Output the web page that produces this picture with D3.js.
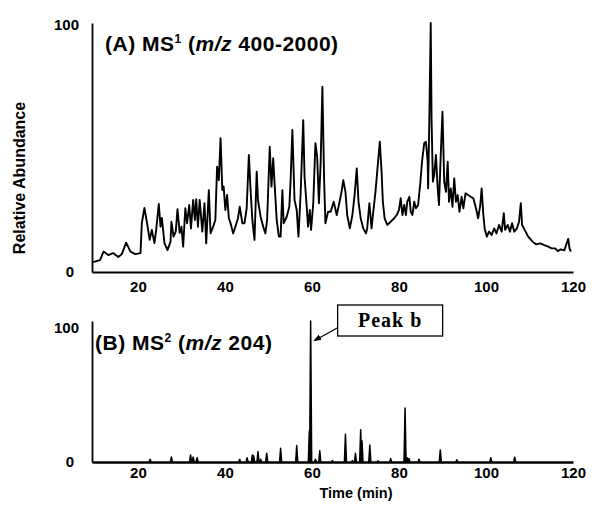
<!DOCTYPE html>
<html>
<head>
<meta charset="utf-8">
<script src="https://cdn.jsdelivr.net/npm/d3@7"></script>
<style>
body { margin: 0; background: #fff; }
svg { display: block; }
text { font-family: "Liberation Sans", Arial, sans-serif; font-weight: bold; fill: #000; }
text.serif { font-family: "Liberation Serif", "Times New Roman", serif; }
</style>
</head>
<body>
<svg id="chart" width="592" height="509"></svg>
<script>
// MS1 total ion trace (time in min, relative abundance)
const ms1Time = [9.7,11.3,12.1,13.2,14.3,15.5,16.3,17.3,18.3,19.4,20.6,20.9,21.5,22.1,22.7,23.2,23.8,24.2,24.8,25.2,
  25.5,26.1,26.8,27.5,27.7,28.2,28.7,29.1,29.6,30.0,30.4,30.9,31.3,31.8,32.2,32.7,33.1,33.4,33.8,34.2,
  34.8,35.3,35.7,36.3,36.7,37.3,37.8,38.2,38.6,39.0,39.4,39.7,40.1,40.5,40.9,41.3,41.9,42.4,43.0,43.4,
  44.0,44.5,45.0,45.5,45.9,46.3,46.8,47.3,47.6,48.2,48.8,49.3,49.7,50.3,50.7,51.1,51.5,51.9,52.4,52.8,
  53.2,53.5,54.2,54.8,55.1,55.5,56.0,56.5,56.9,57.4,58.0,58.3,58.8,59.1,59.5,59.8,60.3,60.8,61.2,61.6,
  62.0,62.4,62.8,63.1,63.7,64.3,65.0,65.7,66.2,66.8,67.2,67.7,68.1,68.7,69.3,69.8,70.3,70.7,71.2,71.8,
  72.4,72.7,73.2,73.7,74.1,74.6,75.2,75.6,76.0,76.3,76.7,77.3,78.1,78.9,79.5,80.0,80.4,80.8,81.2,81.6,
  81.9,82.4,82.7,83.1,83.5,83.9,84.4,84.9,85.3,85.8,86.2,86.6,86.7,87.0,87.3,87.5,87.8,88.1,88.5,88.9,
  89.2,89.6,90.0,90.4,90.8,91.2,91.5,91.9,92.3,92.7,93.1,93.5,93.9,94.4,94.8,95.3,95.9,96.5,97.1,97.7,
  98.2,98.7,99.0,99.4,99.7,100.2,100.7,101.3,101.9,102.4,103.0,103.6,104.1,104.4,105.0,105.5,106.0,106.5,107.1,107.6,
  108.0,108.3,108.9,109.7,110.7,111.5,112.5,113.4,114.3,115.1,115.9,116.5,117.2,118.0,118.4,118.9,119.2,119.5];
const ms1Abund = [4.0,4.8,8.2,6.8,7.6,6.0,7.2,11.8,8.2,7.2,7.6,19.6,25.7,19.6,12.9,16.9,11.6,16.9,27.3,18.2,
  21.7,11.6,8.8,12.2,20.2,14.2,16.2,25.2,15.7,18.2,10.2,25.6,19.6,26.9,17.5,28.9,20.9,29.2,18.2,28.9,
  16.2,27.6,11.5,32.9,15.5,18.2,20.9,42.3,36.9,53.7,32.9,34.3,24.9,30.9,21.6,19.6,15.5,18.2,21.6,26.2,
  19.6,19.6,25.6,47.0,32.9,20.9,12.9,40.3,28.9,22.2,18.2,15.5,20.9,50.3,34.3,45.7,32.9,20.9,14.2,14.2,
  32.9,19.6,22.2,26.2,36.9,57.0,28.9,24.9,14.2,31.6,61.0,38.3,26.2,18.2,24.9,16.9,27.6,51.7,46.3,27.6,
  43.7,74.4,36.9,19.6,24.2,24.2,28.2,22.9,26.9,32.2,36.9,32.2,22.9,17.5,22.9,30.9,41.6,28.2,21.6,17.5,
  15.5,17.5,27.6,17.5,24.2,32.2,44.3,52.3,40.3,28.2,21.6,18.9,20.2,21.6,22.9,24.9,29.6,22.9,26.9,22.9,
  28.2,30.2,24.2,22.9,28.2,25.6,26.9,35.6,44.3,51.7,52.3,44.3,33.6,63.1,100,60.4,36.3,39.0,47.0,33.6,
  26.9,47.0,64.4,36.3,32.2,44.3,28.2,33.6,26.2,37.6,28.2,30.9,24.2,30.2,25.6,31.6,30.9,30.2,29.6,25.6,
  21.6,26.9,33.6,22.9,17.5,14.2,16.2,14.9,17.5,15.5,18.9,16.2,23.6,16.9,18.9,16.2,19.6,16.2,17.5,20.2,
  27.6,18.9,16.9,14.2,12.2,11.1,11.5,10.8,10.2,9.5,9.5,8.4,9.1,8.7,10.8,13.3,9.5,8.2];

// MS2 (m/z 204) peaks: retention time and relative height
const ms2Time = [22.8,27.7,32.1,32.7,33.6,43.4,45.1,46.3,46.6,47.6,48.2,49.6,52.8,56.5,59.4,59.7,60.8,61.8,64.7,67.7,
  69.3,70.0,71.2,71.5,73.3,75.2,78.1,81.4,81.9,82.3,84.6,89.5,93.3,101.1,106.6];
const ms2Abund = [2,3.5,5,3.5,3,2,3,5,4.5,7.4,2,6.2,9.8,11.7,22,100,2,8,1,19.7,
  1,6.2,22.9,15,12.1,0.8,2.4,38.3,3,2.5,2,8.6,1.5,3,3.4];

const xTicks = [20, 40, 60, 80, 100, 120];
const yTicks = [0, 100];
const peakLabel = 'Peak b';
const peakIndex = 15;

const svg = d3.select('#chart');

const x = d3.scaleLinear().domain([9.45, 120]).range([92, 573]);
const yA = d3.scaleLinear().domain([0, 100]).range([272, 23]);
const yB = d3.scaleLinear().domain([0, 100]).range([462, 321]);

function drawAxes(y, xPad, topShift, bottomWidth) {
    const gx = svg.append('g').attr('transform', `translate(0,${y(0)})`)
        .call(d3.axisBottom(x).tickValues(xTicks).tickSize(0).tickSizeOuter(0).tickPadding(xPad));
    gx.select('.domain').attr('stroke-width', bottomWidth);
    gx.selectAll('text').attr('font-size', 15).attr('font-family', null);

    const gy = svg.append('g').attr('transform', `translate(${x(9.45)},0)`)
        .call(d3.axisLeft(y).tickValues(yTicks).tickSize(0).tickSizeOuter(0).tickPadding(13));
    gy.select('.domain').attr('stroke-width', 1.8);
    gy.selectAll('text').attr('font-size', 15).attr('font-family', null)
        .attr('dx', d => d === 0 ? -5 : 0)
        .attr('transform', d => d === 100 ? `translate(0,${topShift})` : null);
}

drawAxes(yA, 9.5, 2, 1.8);
drawAxes(yB, 5.5, 7, 2.4);

// panel A trace
const lineA = d3.line().x((d, i) => x(ms1Time[i])).y(d => yA(d));
svg.append('path')
    .attr('d', lineA(ms1Abund))
    .attr('fill', 'none')
    .attr('stroke', '#000')
    .attr('stroke-width', 1.9)
    .attr('stroke-linejoin', 'round');

// panel B peaks
const halfW = 0.24;
svg.append('g').selectAll('path')
    .data(ms2Time)
    .join('path')
    .attr('d', (t, i) => `M${x(t - halfW)},${yB(0)}L${x(t)},${yB(ms2Abund[i])}L${x(t + halfW)},${yB(0)}`)
    .attr('fill', '#000')
    .attr('stroke', '#000')
    .attr('stroke-width', 1.5)
    .attr('stroke-linejoin', 'round');

// panel titles
function title(xPos, yPos, tag, sup, mz) {
    const t = svg.append('text').attr('x', xPos).attr('y', yPos)
        .attr('font-size', 21).attr('letter-spacing', 0.5);
    t.append('tspan').text(`(${tag}) MS`);
    t.append('tspan').attr('font-size', 12).attr('dy', -8).text(sup);
    t.append('tspan').attr('dy', 8).text(' (');
    t.append('tspan').attr('font-style', 'italic').text('m/z');
    t.append('tspan').text(` ${mz})`);
}
title(105, 50.5, 'A', '1', '400-2000');
title(95, 349.5, 'B', '2', '204');

// y label
svg.append('text')
    .attr('transform', 'translate(19,178) rotate(-90)')
    .attr('text-anchor', 'middle')
    .attr('dy', '0.35em')
    .attr('font-size', 16)
    .text('Relative Abundance');

// x label
svg.append('text')
    .attr('x', 356).attr('y', 498)
    .attr('text-anchor', 'middle')
    .attr('font-size', 14.5)
    .text('Time (min)');

// peak annotation
svg.append('defs').append('marker')
    .attr('id', 'arrow')
    .attr('viewBox', '0 0 10 10')
    .attr('refX', 9).attr('refY', 5)
    .attr('markerWidth', 6).attr('markerHeight', 6)
    .attr('orient', 'auto')
    .append('path').attr('d', 'M0,1L10,5L0,9Z').attr('fill', '#000');

const px = x(ms2Time[peakIndex]);
const tipY = yB(86);
svg.append('line')
    .attr('x1', px + 27).attr('y1', tipY - 13)
    .attr('x2', px + 3.5).attr('y2', tipY)
    .attr('stroke', '#000').attr('stroke-width', 1.3)
    .attr('marker-end', 'url(#arrow)');

svg.append('rect')
    .attr('x', px + 27).attr('y', 305)
    .attr('width', 105).attr('height', 31)
    .attr('fill', '#fff').attr('stroke', '#000').attr('stroke-width', 1.3);

svg.append('text')
    .attr('class', 'serif')
    .attr('x', px + 27 + 52.5).attr('y', 327)
    .attr('text-anchor', 'middle')
    .attr('font-size', 20)
    .attr('letter-spacing', 1)
    .text(peakLabel);
</script>
</body>
</html>
